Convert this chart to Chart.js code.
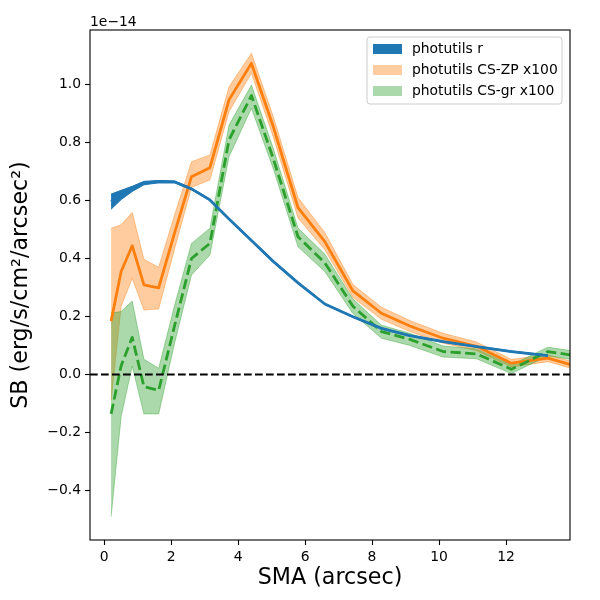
<!DOCTYPE html>
<html lang="en">
<head>
    <meta charset="UTF-8">
    <title>SB profile</title>
    <script src="https://cdn.jsdelivr.net/npm/chart.js"></script>
    <style>
        body { margin: 0; background: #fff; }
        canvas { display: block; }
    </style>
</head>
<body>
    <canvas id="profile" width="600" height="600"></canvas>
    <script>
        // SMA grid (arcsec); the CS profiles have one extra point past the axis edge
        const sma   = [0.21, 0.51, 0.84, 1.19, 1.63, 2.11, 2.61, 3.16, 3.73, 4.40, 5.05, 5.79, 6.59, 7.43, 8.28, 9.13, 10.12, 11.12, 12.16, 13.25];
        const smaCS = [0.21, 0.51, 0.84, 1.19, 1.63, 2.11, 2.61, 3.16, 3.73, 4.40, 5.05, 5.79, 6.59, 7.43, 8.28, 9.13, 10.12, 11.12, 12.16, 13.25, 14.35];

        // surface brightness in units of 1e-14
        const rSB    = [0.596, 0.619, 0.640, 0.660, 0.665, 0.664, 0.640, 0.602, 0.536, 0.462, 0.390, 0.316, 0.243, 0.199, 0.159, 0.134, 0.113, 0.096, 0.079, 0.065];
        const rLo    = [0.570, 0.603, 0.631, 0.654, 0.661, 0.661, 0.637, 0.599, 0.533, 0.459, 0.387, 0.313, 0.241, 0.197, 0.157, 0.132, 0.111, 0.094, 0.077, 0.063];
        const rHi    = [0.622, 0.635, 0.649, 0.666, 0.669, 0.667, 0.643, 0.605, 0.539, 0.465, 0.393, 0.319, 0.245, 0.201, 0.161, 0.136, 0.115, 0.098, 0.081, 0.067];

        const zpSB   = [0.184, 0.355, 0.444, 0.309, 0.299, 0.490, 0.682, 0.713, 0.947, 1.073, 0.855, 0.575, 0.458, 0.288, 0.211, 0.167, 0.125, 0.097, 0.039, 0.056, 0.020];
        const zpLo   = [-0.090, 0.234, 0.332, 0.222, 0.226, 0.435, 0.645, 0.671, 0.906, 1.039, 0.820, 0.540, 0.430, 0.265, 0.190, 0.148, 0.108, 0.082, 0.026, 0.044, 0.008];
        const zpHi   = [0.504, 0.516, 0.559, 0.397, 0.370, 0.552, 0.734, 0.757, 0.992, 1.108, 0.890, 0.610, 0.490, 0.310, 0.232, 0.186, 0.142, 0.112, 0.052, 0.068, 0.032];

        const grSB   = [-0.136, 0.030, 0.128, -0.042, -0.055, 0.170, 0.400, 0.452, 0.809, 0.962, 0.745, 0.475, 0.385, 0.235, 0.148, 0.121, 0.079, 0.071, 0.018, 0.079, 0.060];
        const grLo   = [-0.490, -0.145, 0.029, -0.136, -0.136, 0.110, 0.343, 0.412, 0.751, 0.918, 0.710, 0.440, 0.355, 0.210, 0.125, 0.100, 0.060, 0.054, 0.003, 0.064, 0.045];
        const grHi   = [0.212, 0.217, 0.253, 0.052, 0.021, 0.240, 0.452, 0.504, 0.860, 0.998, 0.780, 0.505, 0.415, 0.260, 0.170, 0.142, 0.098, 0.088, 0.033, 0.094, 0.075];

        const xTicks = [0, 2, 4, 6, 8, 10, 12];
        const yTicks = [-0.4, -0.2, 0.0, 0.2, 0.4, 0.6, 0.8, 1.0];
        const legendLabels = ['photutils r', 'photutils CS-ZP x100', 'photutils CS-gr x100'];

        const BLUE = '#1f77b4', ORANGE = '#ff7f0e', GREEN = '#2ca02c';
        const ORANGE_A = 'rgba(255,127,14,0.4)', GREEN_A = 'rgba(44,160,44,0.4)';
        const FONT = 'DejaVu Sans';

        const pts = (xs, ys) => ys.map((y, i) => ({ x: xs[i], y: y }));

        function band(xs, lo, hi, fillColor, order) {
            return [
                { data: pts(xs, lo), borderColor: fillColor, borderWidth: 1, pointRadius: 0, fill: false, order: order },
                { data: pts(xs, hi), borderColor: fillColor, borderWidth: 1, pointRadius: 0, fill: '-1', backgroundColor: fillColor, order: order }
            ];
        }

        function line(xs, ys, color, order, dash) {
            return { data: pts(xs, ys), borderColor: color, borderWidth: 2.8, pointRadius: 0, fill: false,
                     borderDash: dash || [], borderCapStyle: 'butt', borderJoinStyle: 'round', order: order };
        }

        const datasets = []
            .concat(band(sma, rLo, rHi, BLUE, 9))
            .concat(band(smaCS, zpLo, zpHi, ORANGE_A, 8))
            .concat(band(smaCS, grLo, grHi, GREEN_A, 7))
            .concat([
                line(smaCS, zpSB, ORANGE, 3),
                line(smaCS, grSB, GREEN, 2, [10.3, 4.4]),
                line(sma, rSB, BLUE, 1)
            ]);

        // axhline at 0, axes frame, offset text and the legend box
        const extras = {
            id: 'extras',
            afterDatasetsDraw(chart) {
                const { ctx, chartArea: a, scales } = chart;
                const y0 = scales.y.getPixelForValue(0);
                ctx.save();
                ctx.beginPath();
                ctx.rect(a.left, a.top, a.right - a.left, a.bottom - a.top);
                ctx.clip();
                ctx.strokeStyle = '#000';
                ctx.lineWidth = 2.1;
                ctx.setLineDash([7.7, 3.3]);
                ctx.beginPath();
                ctx.moveTo(a.left, y0);
                ctx.lineTo(a.right, y0);
                ctx.stroke();
                ctx.restore();
            },
            afterDraw(chart) {
                const { ctx, chartArea: a } = chart;
                ctx.save();
                ctx.strokeStyle = '#000';
                ctx.lineWidth = 1.1;
                ctx.strokeRect(a.left, a.top, a.right - a.left, a.bottom - a.top);

                ctx.fillStyle = '#000';
                ctx.font = '13.9px "' + FONT + '"';
                ctx.textAlign = 'left';
                ctx.textBaseline = 'alphabetic';
                ctx.fillText('1e\u221214', a.left, 26);

                // legend
                const lx = a.right - 203, ly = a.top + 7, lw = 195, lh = 67, r = 3;
                ctx.beginPath();
                ctx.moveTo(lx + r, ly);
                ctx.arcTo(lx + lw, ly, lx + lw, ly + lh, r);
                ctx.arcTo(lx + lw, ly + lh, lx, ly + lh, r);
                ctx.arcTo(lx, ly + lh, lx, ly, r);
                ctx.arcTo(lx, ly, lx + lw, ly, r);
                ctx.closePath();
                ctx.fillStyle = 'rgba(255,255,255,0.8)';
                ctx.fill();
                ctx.strokeStyle = '#cccccc';
                ctx.lineWidth = 1;
                ctx.stroke();

                const swatches = [BLUE, ORANGE_A, GREEN_A];
                legendLabels.forEach((label, i) => {
                    const cy = ly + 12 + i * 21;
                    ctx.fillStyle = swatches[i];
                    ctx.fillRect(lx + 6, cy - 5, 29, 10);
                    ctx.fillStyle = '#000';
                    ctx.textBaseline = 'middle';
                    ctx.fillText(label, lx + 45, cy);
                });
                ctx.restore();
            }
        };

        new Chart(document.getElementById('profile'), {
            type: 'line',
            data: { datasets: datasets },
            plugins: [extras],
            options: {
                responsive: false,
                animation: false,
                devicePixelRatio: 1,
                layout: { padding: { left: 0, top: 30, right: 30, bottom: 0 } },
                plugins: { legend: { display: false }, tooltip: { enabled: false } },
                elements: { line: { tension: 0 } },
                scales: {
                    x: {
                        type: 'linear',
                        min: -0.42,
                        max: 13.91,
                        afterFit: s => { s.height = 60; },
                        afterBuildTicks: s => { s.ticks = xTicks.map(v => ({ value: v })); },
                        border: { display: false },
                        grid: { drawOnChartArea: false, drawTicks: true, tickLength: 5, tickColor: '#000', tickWidth: 1.1 },
                        ticks: { color: '#000', padding: 4, maxRotation: 0, autoSkip: false,
                                 font: { family: FONT, size: 13.9 }, callback: v => String(v) },
                        title: { display: true, text: 'SMA (arcsec)', color: '#000',
                                 font: { family: FONT, size: 22.2 }, padding: { top: 0, bottom: 8 } }
                    },
                    y: {
                        type: 'linear',
                        min: -0.571,
                        max: 1.188,
                        afterFit: s => { s.width = 90; },
                        afterBuildTicks: s => { s.ticks = yTicks.map(v => ({ value: v })); },
                        border: { display: false },
                        grid: { drawOnChartArea: false, drawTicks: true, tickLength: 5, tickColor: '#000', tickWidth: 1.1 },
                        ticks: { color: '#000', padding: 4, autoSkip: false,
                                 font: { family: FONT, size: 13.9 },
                                 callback: v => v.toFixed(1).replace('-', '\u2212') },
                        title: { display: true, text: 'SB (erg/s/cm\u00b2/arcsec\u00b2)', color: '#000',
                                 font: { family: FONT, size: 22.2 }, padding: { top: 8, bottom: 0 } }
                    }
                }
            }
        });
    </script>
</body>
</html>
